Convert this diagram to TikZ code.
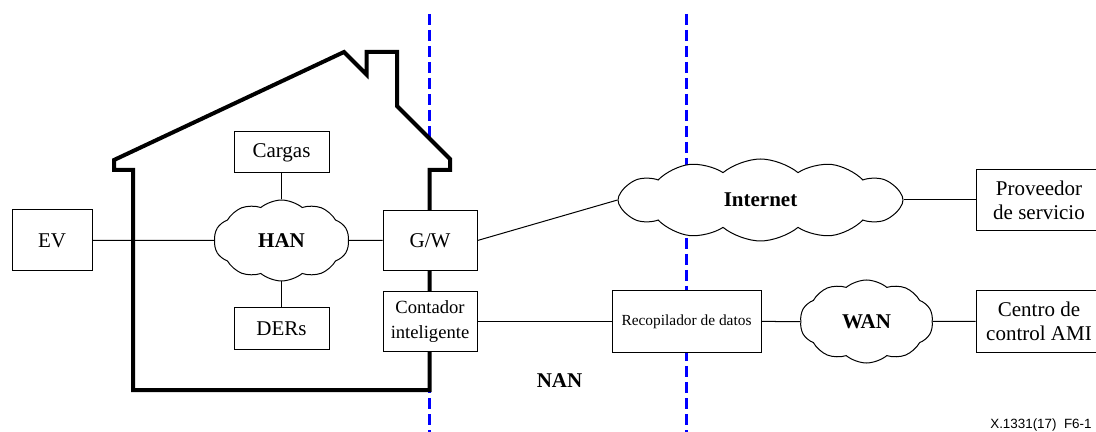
\documentclass[tikz,border=0pt]{standalone}
\usepackage{fontspec}
\setmainfont{Liberation Serif}
\newfontfamily\tagfont{Liberation Sans}
\usetikzlibrary{shapes.symbols}

\tikzstyle{net-box}=[draw,fill=white,line width=0.5pt,inner sep=0pt,align=center,font=\fontsize{10.5}{12}\selectfont]
\tikzstyle{net-cloud}=[cloud,draw,fill=white,line width=0.5pt,inner sep=0pt,cloud puffs=10,cloud puff arc=80,cloud ignores aspect,font=\fontsize{10.5}{12}\selectfont\bfseries]
\tikzstyle{zone-line}=[blue,line width=1.5pt,dash pattern=on 5.5pt off 2.5pt]
\tikzstyle{house}=[line width=2pt,fill=white]
\tikzstyle{link}=[line width=0.5pt]

\begin{document}
\begin{tikzpicture}[x=0.5pt,y=-0.5pt]
    \useasboundingbox (0,0) rectangle (1096,432);
    % domain borders
    \draw[zone-line] (429.5,14) -- (429.5,432);
    \draw[zone-line] (686,14) -- (686,432);
    % the house
    \draw[house] (133,390) -- (133,170) -- (114,170) -- (114,160) -- (344,52) -- (366.5,74.5)
      -- (366.5,52) -- (397,52) -- (397,106) -- (450,159) -- (450,170) -- (429.5,170)
      -- (429.5,390) -- cycle;
    % home network
    \node[net-cloud] (han) at (281.5,240.5) [minimum width=67.5pt,minimum height=40.5pt] {HAN};
    \node[net-box]   (load) [above of=han, node distance=44pt] [minimum width=47.5pt,minimum height=20.5pt] {Cargas};
    \node[net-box]   (der)  [below of=han, node distance=44pt] [minimum width=47.5pt,minimum height=20.5pt] {DERs};
    \node[net-box]   (ev)   [left of=han, node distance=114.75pt] [minimum width=40pt,minimum height=30.5pt] {EV};
    \node[net-box]   (gw)   [right of=han, node distance=74.25pt] [minimum width=47pt,minimum height=30pt] {G/W};
    \node[net-box]   (sm)   [below of=gw, node distance=40.5pt] [minimum width=47pt,minimum height=30pt,
                             font=\fontsize{9.3}{12.5}\selectfont] {Contador\\inteligente};
    % outside
    \node[net-cloud] (inet) at (760.5,200) [minimum width=142.5pt,minimum height=41pt,cloud puffs=12] {Internet};
    \node[net-box]   (isp)  [right of=inet, node distance=139.25pt] [minimum width=63pt,minimum height=30.5pt] {Proveedor\\de servicio};
    \node[net-box]   (dc)   [right of=sm, node distance=128.25pt] [minimum width=74.5pt,minimum height=30.5pt,
                             font=\fontsize{7.7}{9}\selectfont] {Recopilador de datos};
    \node[net-cloud] (wan)  [right of=dc, node distance=90pt] [minimum width=66.5pt,minimum height=41.5pt] {WAN};
    \node[net-box]   (ami)  [right of=wan, node distance=86.25pt] [minimum width=63pt,minimum height=30.5pt] {Centro de\\control AMI};
    \node[font=\fontsize{10.5}{12}\selectfont\bfseries] (nan) at (559.5,381) {NAN};
    \node[anchor=east,inner sep=0pt,font=\tagfont\fontsize{6.7}{8}\selectfont] (tag) at (1092,425) {X.1331(17)~~F6-1};
    % links
    \draw[link] (ev)   to (han);
    \draw[link] (han)  to (load);
    \draw[link] (han)  to (der);
    \draw[link] (han)  to (gw);
    \draw[link] (gw.east) to (inet.west);
    \draw[link] (inet) to (isp);
    \draw[link] (sm)   to (dc);
    \draw[link] (dc)   to (wan);
    \draw[link] (wan)  to (ami);
\end{tikzpicture}
\end{document}
